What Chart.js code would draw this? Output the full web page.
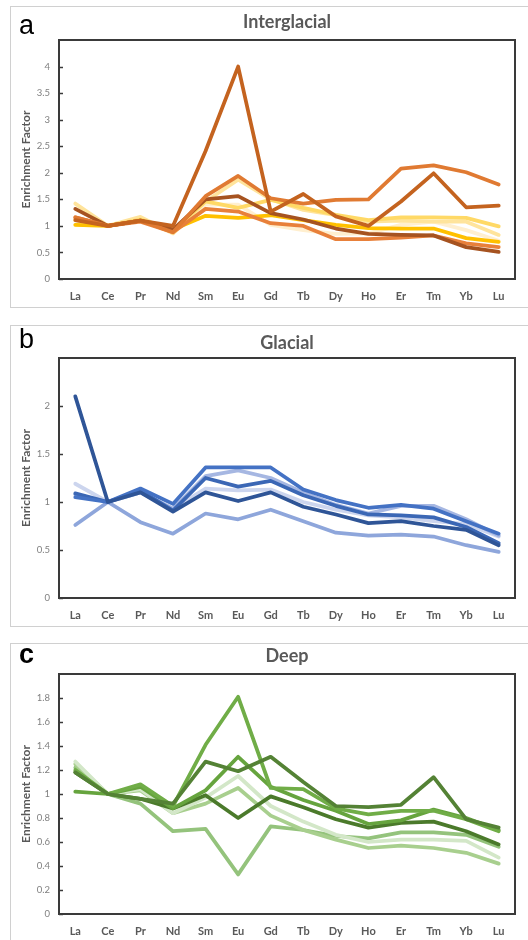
<!DOCTYPE html>
<html>
<head>
<meta charset="utf-8">
<script src="https://cdn.jsdelivr.net/npm/chart.js@4.4.1/dist/chart.umd.min.js"></script>
<style>
  body { margin: 0; background: #fff; width: 528px; height: 940px; overflow: hidden; position: relative; }
  .panel { position: absolute; left: 10px; width: 530px; border: 1.5px solid #d0d0d0; box-sizing: border-box; }
  .box { position: absolute; left: 0; width: 528px; }
</style>
</head>
<body>
<div class="panel" style="top:6px;height:302px"></div>
<div class="panel" style="top:325px;height:302px"></div>
<div class="panel" style="top:643px;height:320px"></div>

<div class="box" style="top:0;height:310px"><canvas id="chartA"></canvas></div>
<div class="box" style="top:316px;height:316px"><canvas id="chartB"></canvas></div>
<div class="box" style="top:634px;height:306px"><canvas id="chartC"></canvas></div>

<script>
// REE labels along the x axis
const elements = ['La', 'Ce', 'Pr', 'Nd', 'Sm', 'Eu', 'Gd', 'Tb', 'Dy', 'Ho', 'Er', 'Tm', 'Yb', 'Lu'];

// Interglacial samples
const interA = [1.11, 1, 1.10, 1.00, 2.41, 4.00, 1.27, 1.60, 1.18, 1.00, 1.46, 1.99, 1.35, 1.38];
const interB = [1.16, 1, 1.10, 0.88, 1.56, 1.94, 1.52, 1.42, 1.49, 1.50, 2.08, 2.14, 2.01, 1.78];
const interC = [1.32, 1, 1.10, 0.93, 1.50, 1.56, 1.24, 1.12, 0.95, 0.85, 0.83, 0.82, 0.60, 0.51];
const interD = [1.16, 1, 1.08, 0.88, 1.32, 1.27, 1.05, 1.00, 0.75, 0.75, 0.78, 0.82, 0.67, 0.60];
const interE = [1.02, 1, 1.10, 0.93, 1.19, 1.15, 1.20, 1.11, 1.02, 0.96, 0.95, 0.95, 0.77, 0.70];
const interF = [1.11, 1, 1.12, 0.92, 1.46, 1.34, 1.49, 1.34, 1.21, 1.11, 1.16, 1.16, 1.15, 0.99];
const interG = [1.42, 1, 1.17, 0.86, 1.46, 1.87, 1.50, 1.30, 1.20, 1.08, 1.10, 1.08, 1.08, 0.83];
const interH = [1.02, 1, 1.12, 0.86, 1.40, 1.40, 1.02, 0.92, 0.85, 0.86, 1.02, 1.08, 0.92, 0.72];
const interColors = ['#C4631F', '#E07A32', '#A65320', '#E8803A', '#FFC000', '#FFD966', '#FFE49C', '#FFEFCF'];

// Glacial samples
const glacA = [2.10, 1, 1.10, 0.90, 1.10, 1.01, 1.10, 0.95, 0.87, 0.78, 0.80, 0.75, 0.71, 0.55];
const glacB = [1.05, 1, 1.14, 0.98, 1.36, 1.36, 1.36, 1.13, 1.02, 0.94, 0.97, 0.93, 0.80, 0.67];
const glacC = [1.09, 1, 1.12, 0.91, 1.25, 1.16, 1.22, 1.07, 0.96, 0.87, 0.86, 0.84, 0.74, 0.57];
const glacD = [0.76, 1, 0.79, 0.67, 0.88, 0.82, 0.92, 0.80, 0.68, 0.65, 0.66, 0.64, 0.55, 0.48];
const glacE = [1.08, 1, 1.10, 0.93, 1.27, 1.33, 1.25, 1.10, 0.97, 0.88, 0.96, 0.96, 0.82, 0.65];
const glacF = [1.19, 1, 1.10, 0.93, 1.14, 1.12, 1.13, 1.00, 0.92, 0.86, 0.84, 0.80, 0.77, 0.64];
const glacColors = ['#2F5597', '#4472C4', '#3B67B5', '#8EA6DB', '#A6B7E2', '#CCD5EE'];

// Deep samples
const deepA = [1.18, 1, 0.96, 0.92, 1.27, 1.19, 1.31, 1.10, 0.90, 0.89, 0.91, 1.14, 0.79, 0.72];
const deepB = [1.20, 1, 1.08, 0.90, 1.41, 1.81, 1.05, 1.04, 0.88, 0.83, 0.86, 0.86, 0.79, 0.69];
const deepC = [1.02, 1, 1.06, 0.88, 1.03, 1.31, 1.06, 0.95, 0.86, 0.75, 0.78, 0.87, 0.80, 0.70];
const deepD = [1.18, 1, 0.96, 0.88, 0.99, 0.80, 0.98, 0.89, 0.79, 0.72, 0.76, 0.77, 0.69, 0.58];
const deepE = [1.27, 1, 1.04, 0.84, 0.97, 1.15, 0.90, 0.77, 0.66, 0.60, 0.62, 0.62, 0.61, 0.47];
const deepF = [1.25, 1, 1.03, 0.84, 0.92, 1.05, 0.82, 0.70, 0.62, 0.55, 0.57, 0.55, 0.51, 0.42];
const deepG = [1.22, 1, 0.92, 0.69, 0.71, 0.33, 0.73, 0.70, 0.65, 0.63, 0.68, 0.68, 0.66, 0.56];
const deepColors = ['#548235', '#70AD47', '#66A43E', '#4B7A2B', '#D3E7C8', '#A8CF8E', '#94C37C'];

// frame around the plot area, inward y ticks, panel letter and title
const panelDecor = {
    id: 'panelDecor',
    afterDraw(chart, args, opts) {
        const ctx = chart.ctx;
        const area = chart.chartArea;
        const y = chart.scales.y;
        ctx.save();
        ctx.strokeStyle = '#3a3a3a';
        ctx.lineWidth = 1.5;
        y.ticks.forEach(t => {
            if (t.value >= y.max) return;
            const py = Math.round(y.getPixelForValue(t.value)) + 0.5;
            ctx.beginPath();
            ctx.moveTo(area.left, py);
            ctx.lineTo(area.left + 4, py);
            ctx.stroke();
        });
        ctx.lineWidth = 2;
        ctx.strokeRect(area.left, area.top, area.right - area.left, area.bottom - area.top);

        ctx.fillStyle = '#000';
        ctx.textBaseline = 'alphabetic';
        ctx.textAlign = 'left';
        ctx.font = (opts.letterBold ? 'bold ' : '') + '27px "Liberation Sans", Arial, sans-serif';
        ctx.fillText(opts.letter, 19, opts.letterBase);

        ctx.fillStyle = '#595959';
        ctx.textAlign = 'center';
        ctx.font = 'bold 18px Lato, sans-serif';
        ctx.fillText(opts.title, (area.left + area.right) / 2, opts.titleBase);
        ctx.restore();
    }
};

function buildChart(id, series, colors, yMax, yStep, padTop, xHeight, decor) {
    new Chart(document.getElementById(id), {
        type: 'line',
        data: {
            labels: elements,
            datasets: series.map((values, i) => ({
                data: values,
                borderColor: colors[i],
                borderWidth: 3.75,
                borderJoinStyle: 'round',
                borderCapStyle: 'round',
                pointRadius: 0,
                tension: 0,
                fill: false
            }))
        },
        options: {
            responsive: true,
            maintainAspectRatio: false,
            animation: false,
            layout: { padding: { top: padTop, right: 13, left: 0, bottom: 0 } },
            plugins: {
                legend: { display: false },
                tooltip: { enabled: false },
                panelDecor: decor
            },
            scales: {
                x: {
                    offset: true,
                    grid: { display: false, drawTicks: false },
                    border: { display: false },
                    ticks: {
                        color: '#595959',
                        padding: 11,
                        maxRotation: 0,
                        font: { family: 'Lato', weight: 'bold', size: 11 }
                    },
                    afterFit: s => { s.height = xHeight; }
                },
                y: {
                    min: 0,
                    max: yMax,
                    grid: { display: false, drawTicks: false },
                    border: { display: false },
                    ticks: {
                        stepSize: yStep,
                        color: '#808080',
                        padding: 9,
                        font: { family: 'Lato', size: 9.5 },
                        callback: v => (v >= yMax ? '' : v)
                    },
                    title: {
                        display: true,
                        text: 'Enrichment Factor',
                        color: '#595959',
                        padding: { top: 19, bottom: 0 },
                        font: { family: 'Lato', weight: 'bold', size: 12 }
                    },
                    afterFit: s => { s.width = 59; }
                }
            }
        },
        plugins: [panelDecor]
    });
}

buildChart('chartA',
    [interA, interB, interC, interD, interE, interF, interG, interH], interColors,
    4.5, 0.5, 40, 31,
    { letter: 'a', letterBold: false, letterBase: 34, title: 'Interglacial', titleBase: 28 });

buildChart('chartB',
    [glacA, glacB, glacC, glacD, glacE, glacF], glacColors,
    2.5, 0.5, 42, 34,
    { letter: 'b', letterBold: false, letterBase: 32, title: 'Glacial', titleBase: 33 });

buildChart('chartC',
    [deepA, deepB, deepC, deepD, deepE, deepF, deepG], deepColors,
    2, 0.2, 40, 26,
    { letter: 'c', letterBold: true, letterBase: 29, title: 'Deep', titleBase: 28 });
</script>
</body>
</html>
